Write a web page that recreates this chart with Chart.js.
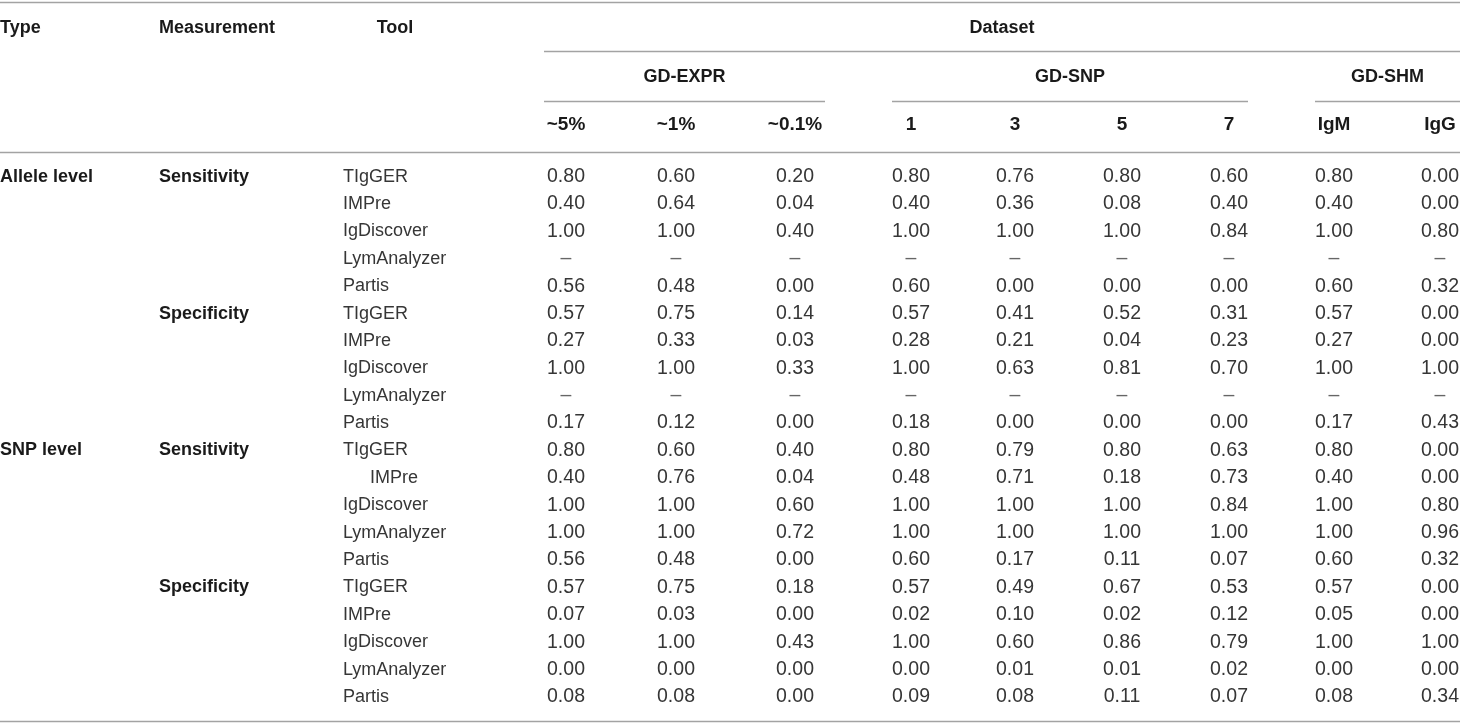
<!DOCTYPE html>
<html>
<head>
<meta charset="utf-8">
<script src="https://cdn.jsdelivr.net/npm/chart.js@4.4.1/dist/chart.umd.min.js"></script>
<style>
  html, body { margin: 0; padding: 0; background: #ffffff; }
  #wrap { position: relative; width: 1460px; height: 723px; }
</style>
</head>
<body>
<div id="wrap"><canvas id="c"></canvas></div>
<script>
// ---------- DATA ----------
const types = ["Allele level", "", "", "", "", "", "", "", "", "", "SNP level", "", "", "", "", "", "", "", "", ""];
const measurements = ["Sensitivity", "", "", "", "", "Specificity", "", "", "", "", "Sensitivity", "", "", "", "", "Specificity", "", "", "", ""];
const tools = ["TIgGER", "IMPre", "IgDiscover", "LymAnalyzer", "Partis",
               "TIgGER", "IMPre", "IgDiscover", "LymAnalyzer", "Partis",
               "TIgGER", "IMPre", "IgDiscover", "LymAnalyzer", "Partis",
               "TIgGER", "IMPre", "IgDiscover", "LymAnalyzer", "Partis"];

const groups = ["GD-EXPR", "GD-SNP", "GD-SHM"];
const columns = ["~5%", "~1%", "~0.1%", "1", "3", "5", "7", "IgM", "IgG"];

const expr5  = [0.80, 0.40, 1.00, null, 0.56, 0.57, 0.27, 1.00, null, 0.17, 0.80, 0.40, 1.00, 1.00, 0.56, 0.57, 0.07, 1.00, 0.00, 0.08];
const expr1  = [0.60, 0.64, 1.00, null, 0.48, 0.75, 0.33, 1.00, null, 0.12, 0.60, 0.76, 1.00, 1.00, 0.48, 0.75, 0.03, 1.00, 0.00, 0.08];
const expr01 = [0.20, 0.04, 0.40, null, 0.00, 0.14, 0.03, 0.33, null, 0.00, 0.40, 0.04, 0.60, 0.72, 0.00, 0.18, 0.00, 0.43, 0.00, 0.00];
const snp1   = [0.80, 0.40, 1.00, null, 0.60, 0.57, 0.28, 1.00, null, 0.18, 0.80, 0.48, 1.00, 1.00, 0.60, 0.57, 0.02, 1.00, 0.00, 0.09];
const snp3   = [0.76, 0.36, 1.00, null, 0.00, 0.41, 0.21, 0.63, null, 0.00, 0.79, 0.71, 1.00, 1.00, 0.17, 0.49, 0.10, 0.60, 0.01, 0.08];
const snp5   = [0.80, 0.08, 1.00, null, 0.00, 0.52, 0.04, 0.81, null, 0.00, 0.80, 0.18, 1.00, 1.00, 0.11, 0.67, 0.02, 0.86, 0.01, 0.11];
const snp7   = [0.60, 0.40, 0.84, null, 0.00, 0.31, 0.23, 0.70, null, 0.00, 0.63, 0.73, 0.84, 1.00, 0.07, 0.53, 0.12, 0.79, 0.02, 0.07];
const shmIgM = [0.80, 0.40, 1.00, null, 0.60, 0.57, 0.27, 1.00, null, 0.17, 0.80, 0.40, 1.00, 1.00, 0.60, 0.57, 0.05, 1.00, 0.00, 0.08];
const shmIgG = [0.00, 0.00, 0.80, null, 0.32, 0.00, 0.00, 1.00, null, 0.43, 0.00, 0.00, 0.80, 0.96, 0.32, 0.00, 0.00, 1.00, 0.00, 0.34];

const series = [expr5, expr1, expr01, snp1, snp3, snp5, snp7, shmIgM, shmIgG];

// ---------- LAYOUT (positions in axis units, not data) ----------
const colCenters = [566, 676, 795, 911, 1015, 1122, 1229, 1334, 1440];
const groupSpans = [[544, 825], [892, 1248], [1315, 1460]];
const datasetSpan = [544, 1460];
const typeX = 0, measX = 159, toolX = 343, toolHeadX = 395;
const toolIndent = { 11: 27 };
const rowUnits = { top: -6.39, head1: -5.44, line1: -4.58, head2: -3.65, line2: -2.78, head3: -1.90, line3: -0.91, bottom: 19.88 };

const FONT = '"Liberation Sans", Arial, Helvetica, sans-serif';
const TXT = '#363636';
const HEAD = '#1a1a1a';
const RULE = '#a3a3a3';

const datasets = series.map((vals, c) => ({
  label: columns[c],
  data: vals.map((v, r) => ({ x: colCenters[c], y: r, v: v })),
  pointRadius: 0,
  pointHoverRadius: 0,
  showLine: false
}));

const tablePlugin = {
  id: 'tablePlugin',
  afterDatasetsDraw(chart) {
    const ctx = chart.ctx;
    const xs = chart.scales.x, ys = chart.scales.y;
    const X = v => xs.getPixelForValue(v);
    const Y = v => ys.getPixelForValue(v);
    ctx.save();

    // rules
    ctx.strokeStyle = RULE;
    ctx.lineWidth = 1.3;
    const hline = (x0, x1, yv) => {
      const y = Math.round(Y(yv)) + 0.5;
      ctx.beginPath(); ctx.moveTo(X(x0), y); ctx.lineTo(X(x1), y); ctx.stroke();
    };
    hline(0, 1460, rowUnits.top);
    hline(datasetSpan[0], datasetSpan[1], rowUnits.line1);
    groupSpans.forEach(s => hline(s[0], s[1], rowUnits.line2));
    hline(0, 1460, rowUnits.line3);
    hline(0, 1460, rowUnits.bottom);

    // headers
    ctx.fillStyle = HEAD;
    ctx.font = 'bold 18px ' + FONT;
    ctx.textBaseline = 'middle';
    ctx.textAlign = 'left';
    ctx.fillText('Type', X(typeX), Y(rowUnits.head1));
    ctx.fillText('Measurement', X(measX), Y(rowUnits.head1));
    ctx.textAlign = 'center';
    ctx.fillText('Tool', X(toolHeadX), Y(rowUnits.head1));
    ctx.fillText('Dataset', X((datasetSpan[0] + datasetSpan[1]) / 2), Y(rowUnits.head1));
    groups.forEach((g, i) => ctx.fillText(g, X((groupSpans[i][0] + groupSpans[i][1]) / 2), Y(rowUnits.head2)));
    ctx.font = 'bold 19px ' + FONT;
    columns.forEach((c, i) => ctx.fillText(c, X(colCenters[i]), Y(rowUnits.head3)));

    // row labels
    ctx.font = 'bold 18px ' + FONT;
    ctx.textAlign = 'left';
    types.forEach((t, r) => { if (t) ctx.fillText(t, X(typeX), Y(r)); });
    measurements.forEach((m, r) => { if (m) ctx.fillText(m, X(measX), Y(r)); });
    ctx.font = '18px ' + FONT;
    ctx.fillStyle = TXT;
    tools.forEach((t, r) => ctx.fillText(t, X(toolX + (toolIndent[r] || 0)), Y(r)));

    // values, from dataset elements
    ctx.textAlign = 'center';
    ctx.font = '19.5px ' + FONT;
    chart.data.datasets.forEach((ds, di) => {
      const meta = chart.getDatasetMeta(di);
      meta.data.forEach((el, i) => {
        const v = ds.data[i].v;
        if (v === null) {
          ctx.fillStyle = '#666';
          ctx.fillText('\u2013', el.x, el.y);
          ctx.fillStyle = TXT;
        } else {
          ctx.fillText(v.toFixed(2), el.x, el.y);
        }
      });
    });
    ctx.restore();
  }
};

new Chart(document.getElementById('c'), {
  type: 'scatter',
  data: { datasets: datasets },
  options: {
    responsive: true,
    maintainAspectRatio: false,
    animation: false,
    events: [],
    layout: { padding: 0 },
    plugins: { legend: { display: false }, tooltip: { enabled: false }, title: { display: false } },
    scales: {
      x: { type: 'linear', min: 0, max: 1460, display: false },
      y: { type: 'linear', min: -6.45, max: 19.95, reverse: true, display: false }
    }
  },
  plugins: [tablePlugin]
});
</script>
</body>
</html>
